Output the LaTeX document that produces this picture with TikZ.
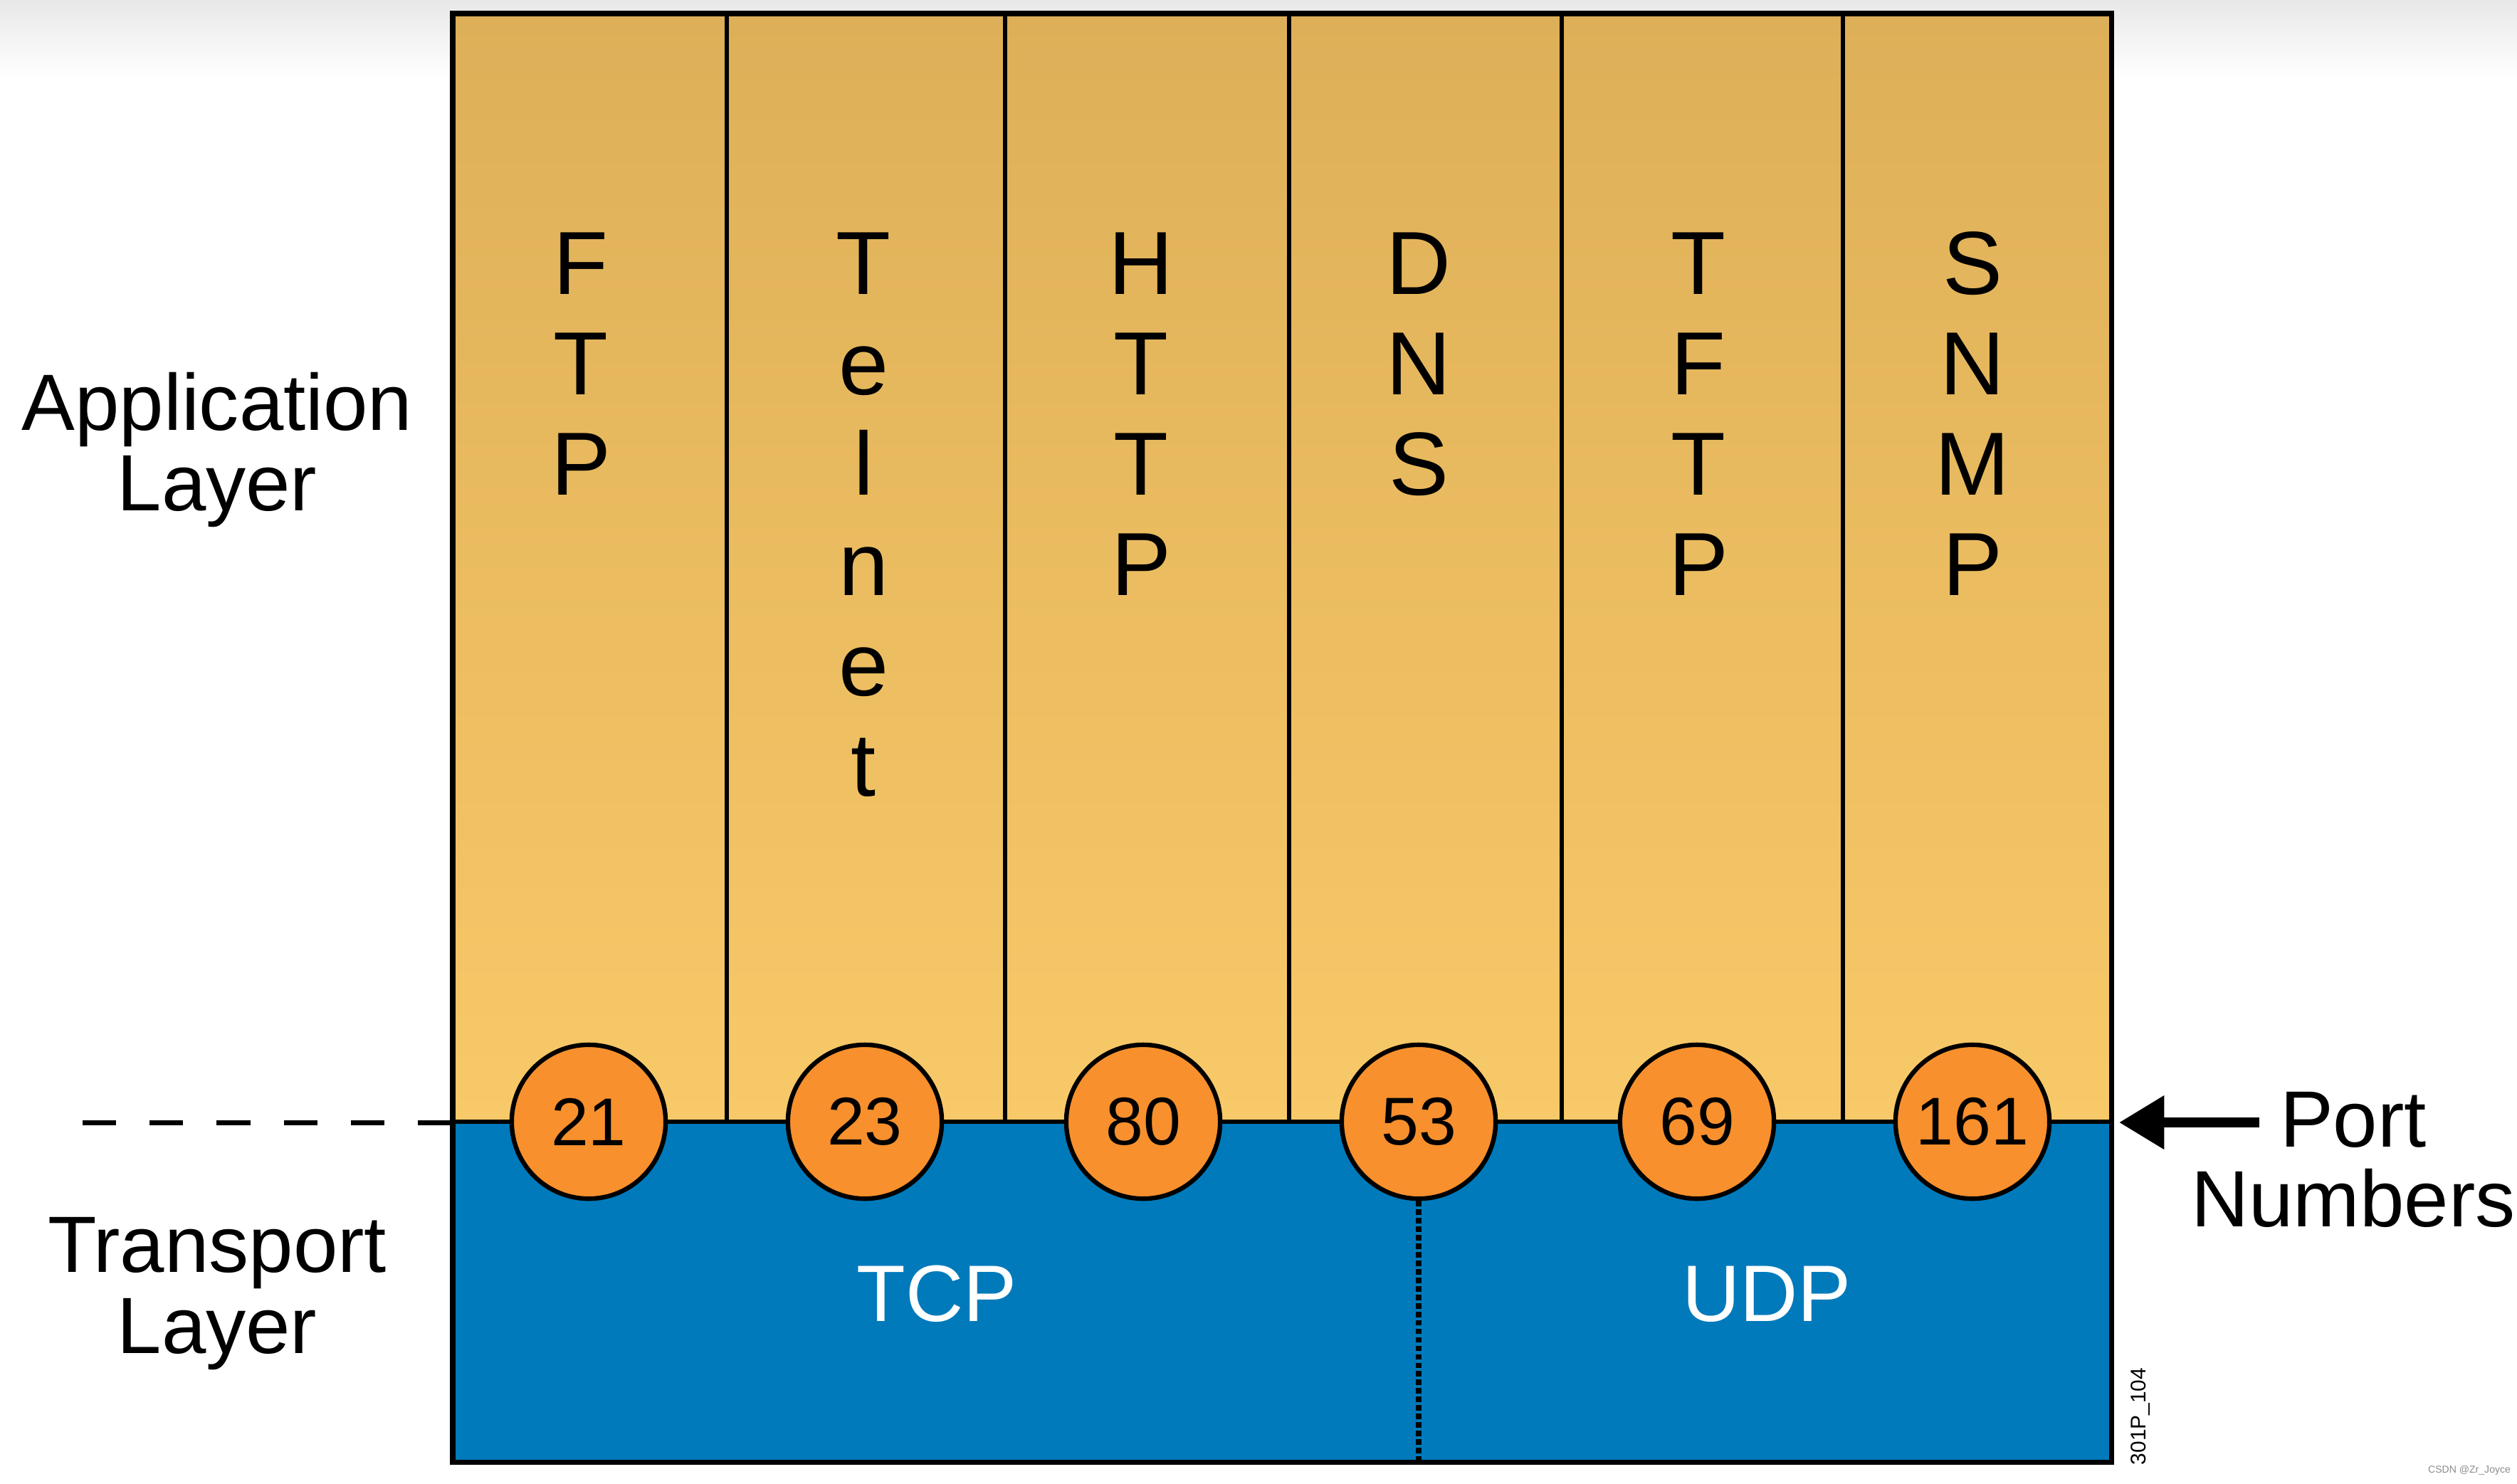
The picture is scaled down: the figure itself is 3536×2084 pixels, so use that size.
\documentclass[tikz,border=0pt]{standalone}
\usepackage{fontspec}
\setmainfont{Liberation Sans}
\usetikzlibrary{arrows.meta}
\definecolor{apptop}{RGB}{221,175,88}
\definecolor{appbot}{RGB}{248,201,104}
\definecolor{tblue}{RGB}{0,122,187}
\definecolor{porange}{RGB}{247,144,45}
\begin{document}
\begin{tikzpicture}[x=0.01cm,y=-0.01cm,
  letter/.style={font=\fontsize{35.8}{40}\selectfont, anchor=base, inner sep=0pt},
  sidelbl/.style={font=\fontsize{31.9}{32}\selectfont, anchor=base, inner sep=0pt},
  protolbl/.style={font=\fontsize{32}{32}\selectfont, anchor=base, inner sep=0pt, text=white},
  portcirc/.style={circle, draw=black, line width=1.8pt, fill=porange, minimum size=61.5pt, inner sep=0pt,
    font=\fontsize{27}{27}\selectfont},
  divider/.style={line width=1.7pt},
  dnsline/.style={line width=2.2pt, dash pattern=on 2.2pt off 1.2pt},
  layerline/.style={line width=2pt, dash pattern=on 13.4pt off 13.4pt},
  portarrow/.style={line width=4pt, -{Triangle[length=18pt,width=20.5pt]}}
]
\useasboundingbox (0,0) rectangle (3536,2084);
\fill[white] (0,0) rectangle (3536,2084);
\shade[top color=black!9, bottom color=white] (0,0) rectangle (3536,110);

% layers
\shade[top color=apptop, bottom color=appbot] (636,19) rectangle (2966,1576);
\fill[tblue] (636,1576) rectangle (2966,2054);

% column dividers
\foreach \x in {1021,1412,1811,2194,2589}
  \draw[divider] (\x,19) -- (\x,1576);
\draw[divider] (636,1576) -- (2966,1576);
\draw[line width=2pt] (636,19) rectangle (2966,2054);

% coordinates
\coordinate (boxW) at (636,1577);
\coordinate (boxE) at (2977,1577);
\coordinate (dashS) at (116,1577);
\coordinate (arrS) at (3174,1577);
\coordinate (dnsbot) at (1993,2054);

% protocol letters
\foreach \x/\nm/\word in {816/ftp/{F,T,P}, 1213/tel/{T,e,l,n,e,t}, 1603/http/{H,T,T,P},
                           1993/dns/{D,N,S}, 2386/tftp/{T,F,T,P}, 2771/snmp/{S,N,M,P}}{
  \foreach \c [count=\i] in \word {
    \node[letter] (\nm-\i) at (\x,{413+141*(\i-1)}) {\c};
  }
}

% dashed layer separator
\draw[layerline] (dashS) -- (boxW);

% dotted TCP/UDP split
\node[portcirc] (p53) at (1993,1576) {53};
\draw[dnsline] (p53.south) -- (dnsbot);

% port circles
\node[portcirc] (p21) at (827,1576) {21};
\node[portcirc] (p23) at (1215,1576) {23};
\node[portcirc] (p80) at (1606,1576) {80};
\node[portcirc] (p69) at (2384,1576) {69};
\node[portcirc] (p161) at (2771,1576) {161};

% transport protocols
\node[protolbl] (tcp) at (1316,1856) {TCP};
\node[protolbl] (udp) at (2482,1856) {UDP};

% side labels
\node[sidelbl] (app1) at (305,604) {Application};
\node[sidelbl] (app2) at (305,717) {Layer};
\node[sidelbl] (tr1) at (305,1787) {Transport};
\node[sidelbl] (tr2) at (305,1901) {Layer};
\node[sidelbl] (pn1) at (3306,1611) {Port};
\node[sidelbl] (pn2) at (3306,1723) {Numbers};
\draw[portarrow] (arrS) -- (boxE);

% figure code and watermark
\node[rotate=90, font=\fontsize{8.5}{8.5}\selectfont, inner sep=0pt] (code) at (3007,1990) {301P\_104};
\node[font=\fontsize{4}{4}\selectfont, text=black!45, inner sep=0pt] (wm) at (3469,2066) {CSDN @Zr\_Joyce};
\end{tikzpicture}
\end{document}
